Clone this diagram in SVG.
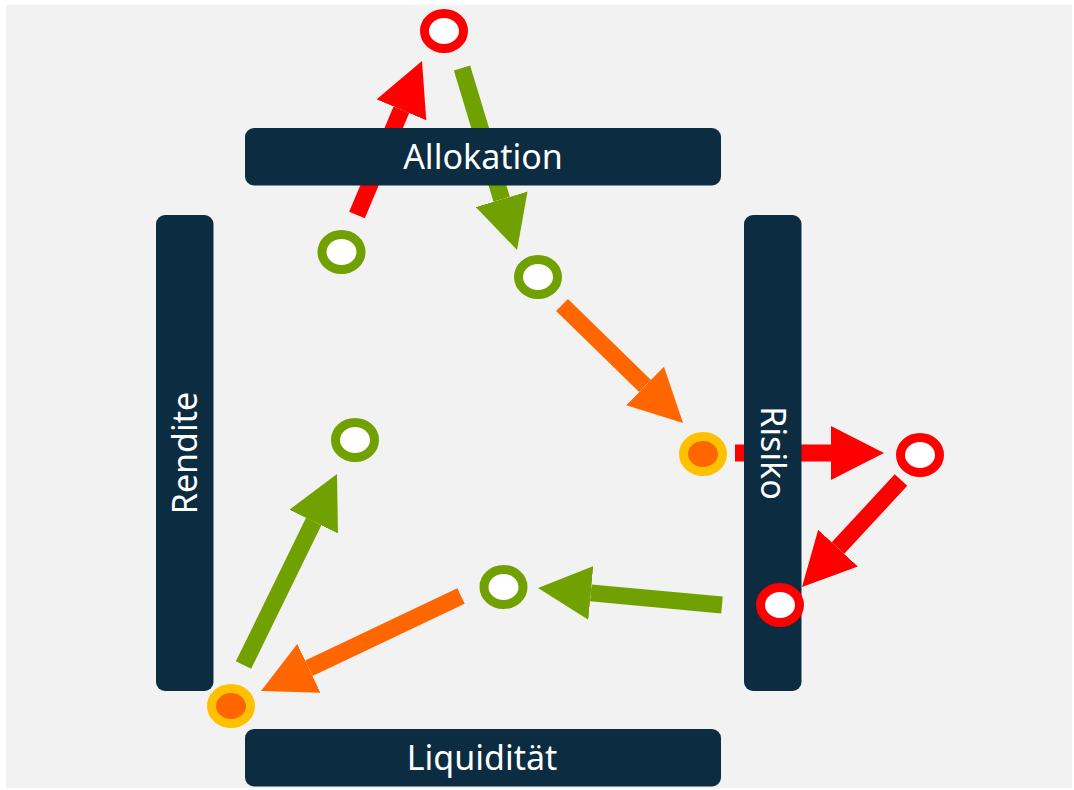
<svg xmlns="http://www.w3.org/2000/svg" width="1074" height="790" viewBox="0 0 1074 790">
  <style>
    .bar { fill: #0b2c41; }
    .lbl { font-family: "Noto Sans", "Liberation Sans", sans-serif; font-size: 34px; fill: #ffffff; text-anchor: middle; }
    .sh { stroke-width: 17; fill: none; stroke-linecap: butt; }
    .red { stroke: #ff0000; }
    .grn { stroke: #70a100; }
    .org { stroke: #ff6600; }
    .ring { stroke-width: 9; fill: #ffffff; }
    .rr { stroke: #ff0000; }
    .rg { stroke: #70a100; }
    .dot { stroke: #ffc000; stroke-width: 9; fill: #ff6600; }
  </style>
  <defs>
    <marker id="hRed" markerUnits="userSpaceOnUse" viewBox="0 -27 53 54" markerWidth="53" markerHeight="54" refX="0" refY="0" orient="auto">
      <path d="M0,-27 L53,0 L0,27 Z" fill="#ff0000"/>
    </marker>
    <marker id="hGrn" markerUnits="userSpaceOnUse" viewBox="0 -27 53 54" markerWidth="53" markerHeight="54" refX="0" refY="0" orient="auto">
      <path d="M0,-27 L53,0 L0,27 Z" fill="#70a100"/>
    </marker>
    <marker id="hOrg" markerUnits="userSpaceOnUse" viewBox="0 -27 53 54" markerWidth="53" markerHeight="54" refX="0" refY="0" orient="auto">
      <path d="M0,-27 L53,0 L0,27 Z" fill="#ff6600"/>
    </marker>
  </defs>
  <rect x="6" y="5" width="1066" height="783" fill="#f2f2f2"/>

  <g id="connectors">
    <line class="sh red" x1="357" y1="215" x2="401.4" y2="109.8" marker-end="url(#hRed)"/>
    <line class="sh grn" x1="462" y1="68" x2="501.7" y2="199.3" marker-end="url(#hGrn)"/>
    <line class="sh org" x1="562" y1="305" x2="645.1" y2="386" marker-end="url(#hOrg)"/>
    <line class="sh red" x1="735" y1="453" x2="831" y2="453" marker-end="url(#hRed)"/>
    <line class="sh red" x1="901" y1="480" x2="838" y2="548.1" marker-end="url(#hRed)"/>
    <line class="sh grn" x1="722" y1="605" x2="590.8" y2="592.9" marker-end="url(#hGrn)"/>
    <line class="sh org" x1="461" y1="596" x2="308.9" y2="668.3" marker-end="url(#hOrg)"/>
    <line class="sh grn" x1="243.5" y1="665" x2="313.7" y2="521.6" marker-end="url(#hGrn)"/>
  </g>

  <g id="allokation">
    <rect class="bar" x="245" y="128" width="476" height="57.5" rx="9"/>
    <text class="lbl" x="483" y="169">Allokation</text>
  </g>
  <g id="liquiditaet">
    <rect class="bar" x="245" y="729" width="476" height="57.5" rx="9"/>
    <text class="lbl" x="482" y="770">Liquidität</text>
  </g>
  <g id="rendite">
    <rect class="bar" x="156" y="215" width="57.5" height="476" rx="9"/>
    <text class="lbl" transform="translate(184.5,453) rotate(-90)" x="0" y="12">Rendite</text>
  </g>
  <g id="risiko">
    <rect class="bar" x="744" y="215" width="57.5" height="476" rx="9"/>
    <text class="lbl" transform="translate(772.5,453) rotate(90)" x="0" y="12">Risiko</text>
  </g>

  <g id="n-red-top"><ellipse class="ring rr" cx="444" cy="31" rx="19.5" ry="17.5"/></g>
  <g id="n-green-a"><ellipse class="ring rg" cx="341.5" cy="252" rx="19.5" ry="17.5"/></g>
  <g id="n-green-b"><ellipse class="ring rg" cx="538" cy="277" rx="19.5" ry="17.5"/></g>
  <g id="n-orange-risk"><ellipse class="dot" cx="703" cy="454" rx="19.5" ry="17.5"/></g>
  <g id="n-red-right"><ellipse class="ring rr" cx="920" cy="455" rx="19.5" ry="17.5"/></g>
  <g id="n-red-bottom"><ellipse class="ring rr" cx="780" cy="605" rx="19.5" ry="17.5"/></g>
  <g id="n-green-c"><ellipse class="ring rg" cx="355" cy="440" rx="19.5" ry="17.5"/></g>
  <g id="n-green-d"><ellipse class="ring rg" cx="503.5" cy="587" rx="19.5" ry="17.5"/></g>
  <g id="n-orange-liq"><ellipse class="dot" cx="231" cy="706" rx="19.5" ry="17.5"/></g>
</svg>
